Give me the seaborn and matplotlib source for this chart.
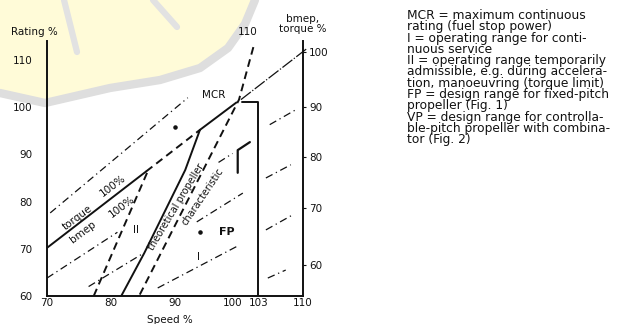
import matplotlib
matplotlib.use('Agg')
import matplotlib.pyplot as plt
import matplotlib.transforms as mtransforms
from matplotlib.patches import Polygon
from matplotlib.lines import Line2D
import seaborn as sns

# values (speed % on x, rating % on y)
torque_solid_speed = [70.0, 85.5]
torque_solid_rating = [70.2, 86.4]
torque_dash_speed = [85.5, 93.9]
torque_dash_rating = [86.4, 95.2]
torque_top_speed = [93.9, 99.6]
torque_top_rating = [95.2, 101.0]
mcr_line_speed = [100.3, 110.5]        # thin line MCR -> bmep 100 on right axis
mcr_line_rating = [101.6, 112.3]

prop_speed = [81.6, 85.2, 91.6, 93.9]   # theoretical propeller characteristic
prop_rating = [60.0, 69.1, 86.7, 95.2]
mcr_prop_speed = [84.5, 100.0, 102.4]   # dashed line through MCR up to "110"
mcr_prop_rating = [60.3, 101.6, 113.5]
limit_speed = [77.3, 85.7]              # dashed boundary of range II
limit_rating = [60.0, 86.3]
fp_top_speed = [99.8, 99.8, 101.7]
fp_top_rating = [86.1, 90.9, 92.6]
max_speed = [100.4, 103.0, 103.0]       # MCR -> 103 % speed limit
max_rating = [101.0, 101.0, 60.0]

# constant bmep lines (dash-dot pieces)
bmep_n0 = [70.5, 70.0, 96.8, 104.8, 76.5, 93.4, 104.2, 87.3, 104.2, 104.5]
bmep_p0 = [77.6, 63.8, 88.3, 96.3, 62.0, 75.7, 85.0, 61.7, 74.0, 63.8]
bmep_n1 = [92.0, 81.0, 99.0, 108.8, 85.0, 100.6, 108.1, 99.8, 108.4, 107.3]
bmep_p1 = [102.0, 73.5, 90.2, 99.4, 69.0, 81.8, 87.8, 70.6, 77.2, 65.5]
dot_speed = [93.9, 90.0]
dot_rating = [73.6, 95.8]

x_ticks = [70, 80, 90, 100, 103, 110]
y_ticks = [60, 70, 80, 90, 100, 110]
right_labels = ['60', '70', '80', '90', '100']
right_pos = [66.6, 78.6, 89.4, 100.0, 111.7]   # where they sit on the rating scale

notes = ['MCR = maximum continuous',
         'rating (fuel stop power)',
         'I = operating range for conti-',
         'nuous service',
         'II = operating range temporarily',
         'admissible, e.g. during accelera-',
         'tion, manoeuvring (torque limit)',
         'FP = design range for fixed-pitch',
         'propeller (Fig. 1)',
         'VP = design range for controlla-',
         'ble-pitch propeller with combina-',
         'tor (Fig. 2)']

sns.set_theme(style='white')
plt.rcParams['font.family'] = ['DejaVu Sans']
plt.rcParams['axes.linewidth'] = 1.4
ink = '#111111'

fig = plt.figure(figsize=(6.38, 3.24), dpi=100)
fig.patch.set_facecolor('white')

# faint watermark behind the chart (figure pixels, y from top)
W, H = 638.0, 324.0
band = [(0, 93), (45, 103), (110, 88), (160, 80), (200, 68), (228, 48), (245, 24), (255, 0)]
fpts = [(x / W, 1 - y / H) for x, y in [(0, -2)] + band + [(255, -2)]]
fig.add_artist(Polygon(fpts, closed=True, transform=fig.transFigure,
                       facecolor='#fffbd8', edgecolor='none', zorder=-2))
fig.add_artist(Line2D([x / W for x, y in band], [1 - y / H for x, y in band],
                      transform=fig.transFigure, color='#dedede', lw=6, zorder=-1))
for seg in [[(64, 0), (77, 52)], [(153, 0), (177, 27)]]:
    fig.add_artist(Line2D([x / W for x, y in seg], [1 - y / H for x, y in seg],
                          transform=fig.transFigure, color='#e2e2e2', lw=4.5, zorder=-1))

ax = fig.add_axes([47 / W, 28 / H, 256 / W, 254.9 / H])
ax.set_facecolor('none')
ax.set_xlim(70, 110)
ax.set_ylim(60, 114)

lw = 1.4
dash = (0, (4, 2.5))
dashdot = (0, (6, 3, 1, 3))
kw = dict(ax=ax, color=ink, estimator=None, sort=False, legend=False)

sns.lineplot(x=torque_solid_speed, y=torque_solid_rating, lw=lw, **kw)
sns.lineplot(x=torque_dash_speed, y=torque_dash_rating, lw=lw, linestyle=dash, **kw)
sns.lineplot(x=torque_top_speed, y=torque_top_rating, lw=lw, **kw)
sns.lineplot(x=mcr_line_speed, y=mcr_line_rating, lw=0.9, linestyle=(0, (10, 1.5, 1, 1.5)),
             clip_on=False, **kw)
sns.lineplot(x=prop_speed, y=prop_rating, lw=lw, **kw)
sns.lineplot(x=mcr_prop_speed, y=mcr_prop_rating, lw=lw, linestyle=dash, clip_on=False, **kw)
sns.lineplot(x=limit_speed, y=limit_rating, lw=lw, linestyle=dash, **kw)
sns.lineplot(x=fp_top_speed, y=fp_top_rating, lw=1.6, **kw)
sns.lineplot(x=max_speed, y=max_rating, lw=lw, **kw)
for n0, p0, n1, p1 in zip(bmep_n0, bmep_p0, bmep_n1, bmep_p1):
    sns.lineplot(x=[n0, n1], y=[p0, p1], lw=0.9, linestyle=dashdot, **kw)
ax.scatter(dot_speed, dot_rating, s=5, color=ink, zorder=3)

# labels inside the diagram
fs = 7.5
ax.text(74.7, 76.7, 'torque', rotation=37, fontsize=fs, color=ink, ha='center', va='center')
ax.text(80.3, 83.3, '100%', rotation=37, fontsize=fs, color=ink, ha='center', va='center')
ax.text(75.6, 73.6, 'bmep', rotation=37, fontsize=fs, color=ink, ha='center', va='center')
ax.text(81.7, 79.0, '100%', rotation=37, fontsize=fs, color=ink, ha='center', va='center')
ax.text(90.2, 78.9, 'theoretical propeller', rotation=59, fontsize=7, color=ink,
        ha='center', va='center', rotation_mode='anchor')
ax.text(94.4, 81.0, 'characteristic', rotation=56, fontsize=7, color=ink,
        ha='center', va='center', rotation_mode='anchor')
ax.text(83.9, 74.0, 'II', fontsize=fs, color=ink, ha='center', va='center')
ax.text(93.6, 68.3, 'I', fontsize=fs, color=ink, ha='center', va='center')
ax.text(98.1, 73.6, 'FP', fontsize=8, fontweight='bold', color=ink, ha='center', va='center')
ax.text(96.1, 102.6, 'MCR', fontsize=fs, color=ink, ha='center', va='center')
ax.text(101.4, 115.9, '110', fontsize=fs, color=ink, ha='center', va='center')
ax.text(68.0, 115.9, 'Rating %', fontsize=fs, color=ink, ha='center', va='center')
ax.text(110.0, 117.6, 'bmep,\ntorque %', fontsize=fs, color=ink, ha='center', va='center',
        linespacing=0.95)
ax.text(89.2, 54.9, 'Speed %', fontsize=fs, color=ink, ha='center', va='center')

ax.set_xticks(x_ticks)
ax.set_yticks(y_ticks)
ax.tick_params(axis='x', length=0, pad=1.5, labelsize=fs, labelcolor=ink)
ax.tick_params(axis='y', length=0, pad=10.5, labelsize=fs, labelcolor=ink)
# the 100 label sits a little left so it clears 103
shift = mtransforms.ScaledTranslation(-6 / 100, 0, fig.dpi_scale_trans)
lab = ax.get_xticklabels()[3]
lab.set_transform(lab.get_transform() + shift)
ax.spines['top'].set_visible(False)
for s in ['left', 'bottom']:
    ax.spines[s].set_color(ink)
ax.spines['right'].set_visible(False)

ax2 = ax.twinx()
ax2.set_ylim(ax.get_ylim())
ax2.set_facecolor('none')
ax2.set_yticks(right_pos, labels=right_labels)
ax2.tick_params(axis='y', direction='out', length=2.5, width=0.8, pad=2,
                labelsize=fs, labelcolor=ink, color=ink)
for s in ['top', 'left', 'bottom']:
    ax2.spines[s].set_visible(False)
ax2.spines['right'].set_color(ink)
ax2.spines['right'].set_linewidth(1.4)
ax2.grid(False)
ax.grid(False)

# explanation block at the right, one text object
fig.text(407 / W, 1 - 9 / H, '\n'.join(notes), fontsize=8.8, color=ink,
         ha='left', va='top', linespacing=0.83)

fig.savefig('out.png', dpi=100)
